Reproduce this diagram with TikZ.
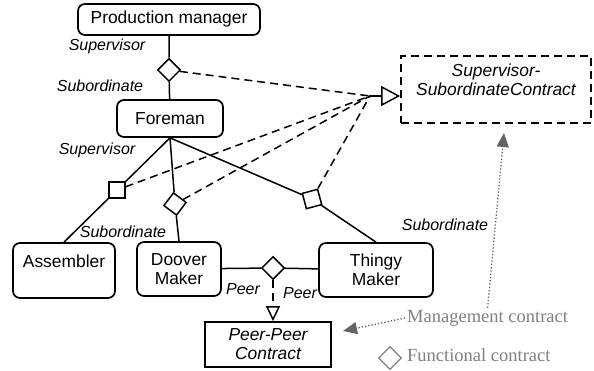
\documentclass[tikz,border=0pt]{standalone}
\usepackage{fontspec}
\setmainfont{Liberation Sans}
\newfontfamily\legendfont{Liberation Serif}
\usetikzlibrary{arrows.meta,shapes.geometric}
\definecolor{legendgray}{RGB}{128,128,128}
\definecolor{arrowgray}{RGB}{100,100,100}

\begin{document}
\begin{tikzpicture}[x=1pt, y=-1pt,
  role/.style={draw, rounded corners=7pt, line width=1.7pt, align=center, inner sep=0pt, font=\fontsize{17.4}{19}\selectfont},
  contract/.style={draw, line width=1.7pt, align=center, inner sep=0pt, font=\fontsize{17.4}{19}\selectfont\itshape},
  link/.style={draw, diamond, line width=1.5pt, fill=white, minimum width=23pt, minimum height=23pt, inner sep=0pt},
  rolelabel/.style={font=\fontsize{16}{18}\selectfont\itshape, inner sep=0pt},
  tie/.style={line width=1.5pt},
  bind/.style={line width=1.5pt, dash pattern=on 8pt off 5pt},
  legend/.style={text=legendgray, inner sep=2pt, font=\legendfont\fontsize{18.5}{20}\selectfont},
  hint/.style={arrowgray, line width=1.3pt, dotted, -{Triangle[length=14pt, width=12pt]}}
]

\useasboundingbox (0,0) rectangle (594,371);

% roles
\node[role, minimum width=182pt, minimum height=31pt] (pm) at (169,19.5) {Production manager};
\node[role, minimum width=106pt, minimum height=37pt] (fm) at (170,118.5) {Foreman};
\node[role, minimum width=102pt, minimum height=55pt] (asm) at (64,270.5) {Assembler\\\mbox{}};
\node[role, minimum width=84pt, minimum height=54pt] (dm) at (179,269) {Doover\\Maker};
\node[role, minimum width=114pt, minimum height=54pt] (tm) at (376,270) {Thingy\\Maker};

% contracts
\node[contract, dashed, dash pattern=on 8pt off 5pt, minimum width=190pt, minimum height=67pt] (ssc) at (496,89.5) {Supervisor-\\SubordinateContract\\\mbox{}};
\node[contract, minimum width=126pt, minimum height=45pt] (ppc) at (268,344.5) {Peer-Peer\\Contract};

% functional links
\node[link] (dP) at (169,70) {};
\node[link, rotate=45] (dA) at (117,190) {};
\node[link, rotate=8] (dD) at (175,204) {};
\node[link, rotate=-30] (dT) at (312,199) {};
\node[link] (dPeer) at (273,268) {};

\draw[tie] (pm) -- (dP) -- (fm);
\draw[tie] (fm.south) -- (dA) -- (asm.north);
\draw[tie] (fm.south) -- (dD) -- (dm.north);
\draw[tie] (fm.south) -- (dT) -- (tm.north);
\draw[tie] (dm) -- (dPeer) -- (tm);

% contract bindings
\coordinate (hub) at (370,96);
\draw[bind] (dP) -- (hub);
\draw[bind] (dA) -- (hub);
\draw[bind] (dD) -- (hub);
\draw[bind] (dT) -- (hub);
\draw[tie, -{Triangle[open, length=19pt, width=20pt]}] (hub) -- (ssc.west |- hub);
\draw[bind, -{Triangle[open, length=15pt, width=14pt]}] (dPeer) -- (dPeer |- ppc.north);

% role names
\node[rolelabel] (lSup1) at (107,46) {Supervisor};
\node[rolelabel] (lSub1) at (100,86) {Subordinate};
\node[rolelabel] (lSup2) at (97,150) {Supervisor};
\node[rolelabel] (lSubA) at (123,232) {Subordinate};
\node[rolelabel] (lSubT) at (445,225) {Subordinate};
\node[rolelabel] (lPeer1) at (243,289) {Peer};
\node[rolelabel] (lPeer2) at (300,293) {Peer};

% legend
\node[legend, anchor=west] (mc) at (405,318) {Management contract};
\node[legend, anchor=west] (fc) at (405,355) {Functional contract};
\node[draw=legendgray, diamond, line width=1.3pt, minimum width=23pt, minimum height=23pt, inner sep=0pt] (fcMark) at (390,358) {};
\coordinate (ppcTip) at (343,331);
\coordinate (sscTip) at (504,133);
\draw[hint] (mc.west) -- (ppcTip);
\draw[hint] (mc.north) -- (sscTip);

\end{tikzpicture}
\end{document}
